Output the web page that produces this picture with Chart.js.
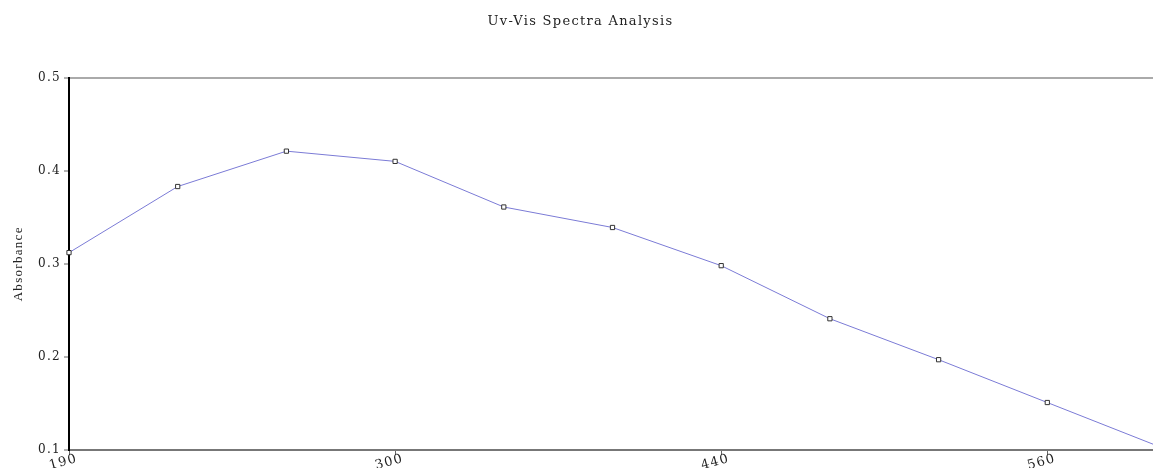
<!DOCTYPE html>
<html>
<head>
<meta charset="utf-8">
<script src="https://cdn.jsdelivr.net/npm/chart.js@4"></script>
<style>
  html, body { margin: 0; padding: 0; background: #fff; overflow: hidden; }
  #wrap { width: 1161px; height: 468px; }
</style>
</head>
<body>
<div id="wrap"><canvas id="uv_chart"></canvas></div>
<script>
// wavelengths (nm) - only every 3rd one is labelled on the axis
const wavelengths = ['190', '230', '260', '300', '350', '400', '440', '480', '520', '560', '600'];
const absorbance = [0.312, 0.383, 0.421, 0.410, 0.361, 0.339, 0.298, 0.241, 0.197, 0.151, 0.105];
const yTicks = [0.1, 0.2, 0.3, 0.4, 0.5];

const serif = "'DejaVu Serif', 'Liberation Serif', serif";
const times = "'Liberation Serif', serif";

const ctx = document.getElementById('uv_chart').getContext('2d');

// the original uses widely spaced lettering
const spacedText = {
    id: 'spacedText',
    beforeDraw: (chart) => { chart.ctx.letterSpacing = '1.3px'; }
};

const uv_chart = new Chart(ctx, {
    type: 'line',
    data: {
        labels: wavelengths,
        datasets: [{
            label: 'Absorbance',
            data: absorbance,
            borderColor: '#7b7bd6',
            borderWidth: 1,
            tension: 0,
            fill: false,
            pointStyle: 'rect',
            pointRadius: 3,
            pointBackgroundColor: '#fff',
            pointBorderColor: '#333',
            pointBorderWidth: 1
        }]
    },
    plugins: [spacedText],
    options: {
        responsive: true,
        maintainAspectRatio: false,
        animation: false,
        layout: { padding: 0 },
        plugins: {
            legend: { display: false },
            tooltip: { enabled: false },
            title: {
                display: true,
                text: 'Uv-Vis Spectra Analysis',
                color: '#222',
                font: { family: serif, size: 13, weight: 'normal' },
                padding: { top: 14, bottom: 48 }
            }
        },
        scales: {
            x: {
                type: 'category',
                offset: false,
                grid: {
                    drawOnChartArea: false,
                    tickLength: 5,
                    tickColor: (c) => (c.index % 3 === 0 ? '#666' : 'rgba(0,0,0,0)')
                },
                border: { color: '#777', width: 2 },
                ticks: {
                    autoSkip: false,
                    minRotation: 15,
                    maxRotation: 15,
                    labelOffset: 8,
                    padding: -4,
                    color: '#222',
                    font: { family: serif, size: 13 },
                    callback: function (val, i) { return i % 3 === 0 ? this.getLabelForValue(val) : ''; }
                },
                afterFit: (scale) => { scale.height = 18; }
            },
            y: {
                min: 0.1,
                max: 0.5,
                afterBuildTicks: (scale) => { scale.ticks = yTicks.map(v => ({ value: v })); },
                grid: {
                    drawOnChartArea: true,
                    tickLength: 5,
                    color: (c) => (c.tick && c.tick.value === 0.5 ? '#aaa' : 'rgba(0,0,0,0)'),
                    lineWidth: 2,
                    tickColor: '#666',
                    tickWidth: 1
                },
                border: { color: '#000', width: 2 },
                ticks: {
                    color: '#222',
                    padding: 3,
                    font: { family: serif, size: 12 },
                    callback: (v) => v.toFixed(1)
                },
                title: {
                    display: true,
                    text: 'Absorbance',
                    color: '#222',
                    font: { family: times, size: 13 },
                    padding: { top: 11, bottom: 0 }
                },
                afterFit: (scale) => { scale.width = 69; }
            }
        }
    }
});
</script>
</body>
</html>
